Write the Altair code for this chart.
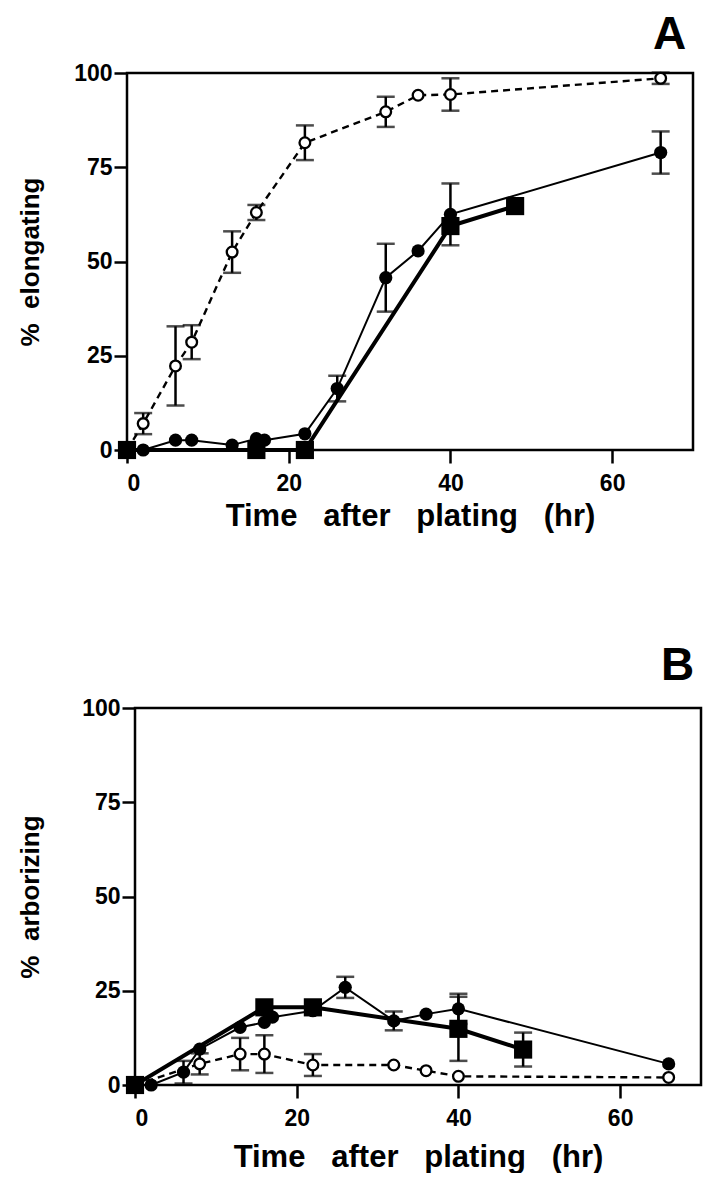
import altair as alt
import pandas as pd

FONT = "Liberation Sans, Arial, sans-serif"

# ---------------- Panel A (% elongating) ----------------
a_open_t = [0, 2, 6, 8, 13, 16, 22, 32, 36, 40, 66]
a_open_v = [0, 7, 22.3, 28.6, 52.5, 63, 81.5, 89.7, 94.1, 94.3, 98.6]
a_open_e = [0, 2.8, 10.5, 4.5, 5.5, 2, 4.6, 4, 0, 4.3, 1.5]

a_fc_t = [2, 6, 8, 13, 16, 17, 22, 26, 32, 36, 40, 66]
a_fc_v = [0, 2.6, 2.6, 1.3, 3, 2.6, 4.3, 16.3, 45.7, 52.8, 62.5, 78.9]
a_fc_e = [0, 0, 0, 0, 0, 0, 0, 3.4, 9, 0, 8.2, 5.6]

a_sq_t = [0, 16, 22, 40, 48]
a_sq_v = [0, 0, 0, 59.4, 64.7]
a_sq_e = [0, 0, 0, 0, 0]

# ---------------- Panel B (% arborizing) ----------------
b_open_t = [0, 8, 13, 16, 22, 32, 36, 40, 66]
b_open_v = [0, 5.6, 8.2, 8.2, 5.3, 5.3, 3.8, 2.3, 2]
b_open_e = [0, 2.8, 4.3, 5, 2.9, 0, 0, 0, 0]

b_fc_t = [2, 6, 8, 13, 16, 17, 22, 26, 32, 36, 40, 66]
b_fc_v = [0, 3.4, 9.5, 15.3, 16.6, 18, 19.7, 25.9, 17, 18.8, 20.2, 5.6]
b_fc_e = [0, 3, 0, 0, 0, 0, 0, 2.8, 2.5, 0, 4, 0]

b_sq_t = [0, 16, 22, 40, 48]
b_sq_v = [0, 20.6, 20.6, 14.9, 9.4]
b_sq_e = [0, 0, 0, 8.5, 4.5]

x_ticks = [0, 20, 40, 60]
y_ticks = [0, 25, 50, 75, 100]
NB = "\u00a0"
GAP = NB + NB + " "
x_title = f"Time{GAP}after{GAP}plating{GAP}(hr)"

PW, PH = 566, 377


def frame(t, v, e):
    df = pd.DataFrame({"t": t, "v": v, "e": e})
    df["lo"] = df["v"] - df["e"]
    df["hi"] = df["v"] + df["e"]
    return df


def panel(open_, fc, sq, ytitle, letter, ytpad, toff, xtpad, shift):
    d_open = frame(*open_)
    d_fc = frame(*fc)
    d_sq = frame(*sq)
    W = PW + shift

    xs = alt.Scale(domain=[0, 70], nice=False, zero=False, range=[shift, W])
    ys = alt.Scale(domain=[0, 100], nice=False)
    xax = alt.Axis(values=x_ticks, tickSize=13, tickWidth=2.5, tickColor="black", domain=False,
                   grid=False, labelFont=FONT, labelFontSize=23, labelFontWeight="bold",
                   labelColor="black", labelPadding=9, title=x_title, titleFont=FONT,
                   titleFontSize=31, titleFontWeight="bold", titleColor="black", titlePadding=xtpad)
    yax = alt.Axis(values=y_ticks, tickSize=13, tickWidth=2.5, tickColor="black", domain=False,
                   grid=False, labelFont=FONT, labelFontSize=23, labelFontWeight="bold",
                   labelColor="black", labelPadding=2, title=ytitle, titleFont=FONT,
                   titleFontSize=26, titleFontWeight="bold", titleColor="black", titlePadding=ytpad,
                   minExtent=62, offset=-shift)
    X = alt.X("t:Q", scale=xs, axis=xax)
    Y = alt.Y("v:Q", scale=ys, axis=yax)

    def line(df, width, dash=None):
        kw = dict(color="black", strokeWidth=width, clip=False)
        if dash:
            kw["strokeDash"] = dash
        return alt.Chart(df).mark_line(**kw).encode(x=X, y=Y, order="t:Q")

    def err(df):
        dd = df[df["e"] > 0]
        base = alt.Chart(dd)
        rule = base.mark_rule(color="black", strokeWidth=2.5).encode(x="t:Q", y="lo:Q", y2="hi:Q")
        lo = base.mark_tick(color="black", orient="horizontal", size=18, thickness=2.5).encode(x="t:Q", y="lo:Q")
        hi = base.mark_tick(color="black", orient="horizontal", size=18, thickness=2.5).encode(x="t:Q", y="hi:Q")
        return rule + lo + hi

    box = alt.Chart(pd.DataFrame({"k": [0]})).mark_rect(
        fill="white", fillOpacity=0, stroke="black", strokeWidth=2.5
    ).encode(x=alt.value(shift), x2=alt.value(W), y=alt.value(0), y2=alt.value(PH))

    layers = [
        box,
        line(d_open, 2.4, [7, 5]),
        line(d_fc, 2),
        line(d_sq, 4),
        err(d_open), err(d_fc), err(d_sq),
        alt.Chart(d_open).mark_point(shape="circle", filled=True, fill="white", stroke="black",
                                     strokeWidth=2.3, size=115, opacity=1).encode(x="t:Q", y="v:Q"),
        alt.Chart(d_fc).mark_circle(color="black", size=175, opacity=1).encode(x="t:Q", y="v:Q"),
        alt.Chart(d_sq).mark_square(color="black", size=330, opacity=1).encode(x="t:Q", y="v:Q"),
    ]
    return alt.layer(*layers).properties(
        width=W, height=PH,
        view=alt.ViewBackground(stroke="transparent"),
        title=alt.TitleParams(letter, anchor="end", fontSize=46, font=FONT, fontWeight="bold",
                              color="black", offset=toff, dx=-8),
    )


pa = panel((a_open_t, a_open_v, a_open_e), (a_fc_t, a_fc_v, a_fc_e), (a_sq_t, a_sq_v, a_sq_e),
           f"%{NB} elongating", "A", 22, 3, 6, 0)
pb = panel((b_open_t, b_open_v, b_open_e), (b_fc_t, b_fc_v, b_fc_e), (b_sq_t, b_sq_v, b_sq_e),
           f"%{NB} arborizing", "B", 30, 7, 12, 8)

chart = alt.vconcat(pa, pb, spacing=110).configure_view(
    stroke="transparent"
).configure(background="white", padding={"top": 3, "left": 8, "right": 0, "bottom": 0})

chart.save("out.html", embed_options={"renderer": "svg", "actions": False})
